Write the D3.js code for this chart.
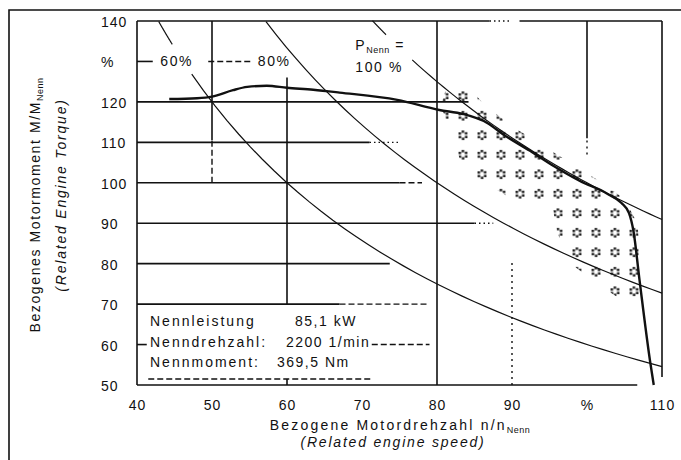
<!DOCTYPE html>
<html>
<head>
<meta charset="utf-8">
<script src="https://cdn.jsdelivr.net/npm/d3@7"></script>
<style>
  body { margin: 0; background: #fff; }
  svg text { font-family: "Liberation Sans", Arial, sans-serif; fill: #111; }
</style>
</head>
<body>
<div id="graph"></div>
<script>
// full load torque curve (speed % / torque %)
var torqueSpeed = [44.3, 48, 50, 52.8, 54.7, 57.3, 60, 63.5, 67, 74.7, 80.3, 83.5, 86.7, 88.8, 92.4, 95.5, 99, 102.7, 104.6, 105.6, 106.2, 107, 108.4, 108.9];
var torqueValue = [120.7, 120.9, 121.3, 122.9, 123.7, 124, 123.5, 123, 122.3, 120.5, 118, 117, 114.8, 112, 107.9, 104.2, 100.5, 97.3, 95, 92.5, 88, 76, 56, 50];

// constant power hyperbolas, M = P * 100 / n, drawn in pieces (gaps for labels)
var powerLevels = [60, 60, 80, 100, 100];
var powerFrom = [42.9, 47.3, 57.2, 71.4, 76.7];
var powerTo = [44.7, 110, 110, 73.2, 110];

// stippled operating region
var stippleSpeed = [80.5, 81.5, 84, 86.5, 90, 96, 102, 105, 106.7, 107.3, 107.3, 105, 101, 97.5, 96, 95.5, 90, 85.5, 83, 82];
var stippleTorque = [119, 125, 124, 119, 114, 107, 100, 96, 90, 80, 71, 70.5, 75.5, 80.5, 88, 93, 96, 101, 106, 112];

// grid pieces: [value, from, to]
var hSolid = [[140, 40, 87], [140, 91, 110], [130, 40, 42.1], [120, 40, 84.2], [110, 40, 71], [100, 40, 75], [90, 40, 85], [80, 40, 73.7], [70, 40, 67], [60, 40, 41.3], [50, 40, 106.7]];
var hDashed = [[130, 49.5, 55.2], [100, 75, 78], [70, 67, 79], [60, 71.3, 79], [51.5, 41.5, 71.5]];
var hDotted = [[140, 87, 90], [110, 71, 75], [90, 85, 87.5]];
var vSolid = [[40, 50, 140], [50, 110.5, 140], [60, 70, 126], [60, 50, 51.5], [80, 50, 140], [100, 111, 140], [110, 52, 140]];
var vDashed = [[50, 100, 110.5]];
var vDotted = [[90, 50, 81], [100, 107, 111]];

var xTicks = [40, 50, 60, 70, 80, 90, 100, 110];
var xTickLabels = ["40", "50", "60", "70", "80", "90", "%", "110"];
var yTicks = [50, 60, 70, 80, 90, 100, 110, 120, 130, 140];
var yTickLabels = ["50", "60", "70", "80", "90", "100", "110", "120", "%", "140"];

var ratedLabels = ["Nennleistung", "Nenndrehzahl:", "Nennmoment:"];
var ratedValues = ["85,1 kW", "2200 1/min", "369,5 Nm"];

var W = 681, H = 460;

var svg = d3.select("#graph").append("svg")
    .attr("width", W)
    .attr("height", H);

var x = d3.scaleLinear().domain([40, 110]).range([137, 662]);
var y = d3.scaleLinear().domain([50, 140]).range([385, 21]);

// outer frame (top + left only)
svg.append("path")
    .attr("d", "M9," + H + "V10H" + W)
    .attr("fill", "none")
    .attr("stroke", "#111")
    .attr("stroke-width", 1.6);

// stipple pattern
var defs = svg.append("defs");
var pat = defs.append("pattern")
    .attr("id", "stip")
    .attr("patternUnits", "userSpaceOnUse")
    .attr("x", 548.5).attr("y", 203.5)
    .attr("width", 19).attr("height", 19.5);
d3.range(6).forEach(function(k) {
    var a = k / 6 * Math.PI * 2 + 0.5;
    pat.append("rect")
        .attr("x", 9.5 + Math.cos(a) * 3.6 - 1.2)
        .attr("y", 9.75 + Math.sin(a) * 3.6 - 1.2)
        .attr("width", 2.4).attr("height", 2.4)
        .attr("fill", "#111");
});

svg.append("path")
    .attr("d", d3.line().curve(d3.curveLinearClosed)(stippleSpeed.map(function(s, i) { return [x(s), y(stippleTorque[i])]; })))
    .attr("fill", "url(#stip)")
    .attr("stroke", "none");

// grid
var g = svg.append("g").attr("stroke", "#111").attr("fill", "none");
function hLines(data, w, dash) {
    g.selectAll(null).data(data).enter().append("line")
        .attr("x1", d => x(d[1])).attr("x2", d => x(d[2]))
        .attr("y1", d => y(d[0])).attr("y2", d => y(d[0]))
        .attr("stroke-width", w)
        .attr("stroke-dasharray", dash);
}
function vLines(data, w, dash) {
    g.selectAll(null).data(data).enter().append("line")
        .attr("y1", d => y(d[1])).attr("y2", d => y(d[2]))
        .attr("x1", d => x(d[0])).attr("x2", d => x(d[0]))
        .attr("stroke-width", w)
        .attr("stroke-dasharray", dash);
}
hLines(hSolid, 1.6, null);
hLines(hDashed, 1.4, "6,3");
hLines(hDotted, 1.4, "1.5,3");
vLines(vSolid, 1.6, null);
vLines(vDashed, 1.4, "6,3");
vLines(vDotted, 1.4, "2,4");

// power hyperbolas
powerLevels.forEach(function(p, i) {
    var pts = d3.range(0, 41).map(function(k) {
        var n = powerFrom[i] + (powerTo[i] - powerFrom[i]) * k / 40;
        return [x(n), y(p * 100 / n)];
    });
    svg.append("path")
        .attr("d", d3.line()(pts))
        .attr("fill", "none")
        .attr("stroke", "#111")
        .attr("stroke-width", 1.2);
});

// full load torque
svg.append("path")
    .attr("d", d3.line().curve(d3.curveMonotoneX)(torqueSpeed.map(function(s, i) { return [x(s), y(torqueValue[i])]; })))
    .attr("fill", "none")
    .attr("stroke", "#111")
    .attr("stroke-width", 2.4);

// axes (labels only)
var xAxis = svg.append("g")
    .attr("transform", "translate(0,410)")
    .call(d3.axisBottom(x).tickValues(xTicks).tickFormat((d, i) => xTickLabels[i]).tickSize(0).tickPadding(0));
xAxis.select(".domain").remove();
xAxis.selectAll("text")
    .attr("y", 0).attr("dy", 0)
    .style("font-family", "Liberation Sans, Arial, sans-serif")
    .style("font-size", "14px")
    .style("letter-spacing", "1px")
    .attr("fill", "#111");

var yAxis = svg.append("g")
    .attr("transform", "translate(101,1)")
    .call(d3.axisLeft(y).tickValues(yTicks).tickFormat((d, i) => yTickLabels[i]).tickSize(0));
yAxis.select(".domain").remove();
yAxis.selectAll("text")
    .attr("x", 0)
    .attr("text-anchor", "start")
    .style("font-family", "Liberation Sans, Arial, sans-serif")
    .style("font-size", "14px")
    .style("letter-spacing", "1px")
    .attr("fill", "#111");

function txt(px, py, s, opts) {
    opts = opts || {};
    var t = svg.append("text")
        .attr("x", px).attr("y", py)
        .attr("font-size", opts.size || 14)
        .attr("letter-spacing", opts.ls != null ? opts.ls : 1.6)
        .attr("text-anchor", opts.anchor || "start")
        .attr("font-style", opts.italic ? "italic" : null)
        .text(s);
    if (opts.rotate) t.attr("transform", "rotate(-90," + px + "," + py + ")");
    return t;
}

// curve labels
txt(x(43.1), y(130) + 5, "60%");
txt(x(56.1), y(130) + 5, "80%");
var pn = txt(x(69.1), 50, "P");
pn.append("tspan").attr("font-size", 9).attr("dy", 3).attr("letter-spacing", 0.5).text("Nenn");
pn.append("tspan").attr("dy", -3).text(" =");
txt(x(69.1), 72, "100 %");

// rated data box
ratedLabels.forEach(function(s, i) {
    txt(150, 326 + i * 20.5, s, {ls: 2});
});
ratedValues.forEach(function(s, i) {
    txt([295, 286, 277][i], 326 + i * 20.5, s, {ls: 1.5});
});

// axis titles
var xt = txt(400, 430, "Bezogene Motordrehzahl n/n", {anchor: "middle", ls: 2.2});
xt.append("tspan").attr("font-size", 9).attr("dy", 3).attr("letter-spacing", 0.5).text("Nenn");
txt(393, 447, "(Related engine speed)", {anchor: "middle", italic: true, ls: 1.8});

var yt = txt(40, 205, "Bezogenes Motormoment M/M", {anchor: "middle", rotate: true, ls: 1.6});
yt.append("tspan").attr("font-size", 9).attr("dy", 3).attr("letter-spacing", 0.5).text("Nenn");
txt(66, 195, "(Related Engine Torque)", {anchor: "middle", rotate: true, italic: true, ls: 1.8});
</script>
</body>
</html>
